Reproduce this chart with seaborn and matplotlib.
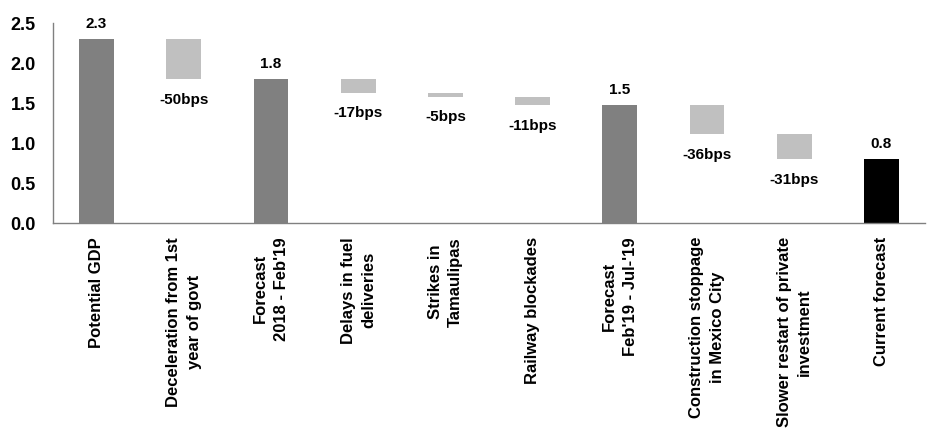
import numpy as np
import pandas as pd
import matplotlib
matplotlib.use("Agg")
import matplotlib.pyplot as plt
import seaborn as sns

# ---- data ----
categories = [
    "Potential GDP",
    "Deceleration from 1st\nyear of govt",
    "Forecast\n2018 - Feb'19",
    "Delays in fuel\ndeliveries",
    "Strikes in\nTamaulipas",
    "Railway blockades",
    "Forecast\nFeb'19 - Jul-'19",
    "Construction stoppage\nin Mexico City",
    "Slower restart of private\ninvestment",
    "Current forecast",
]
bar_top = [2.30, 2.30, 1.80, 1.80, 1.63, 1.58, 1.47, 1.47, 1.11, 0.80]
bar_base = [0.00, 1.80, 0.00, 1.63, 1.58, 1.47, 0.00, 1.11, 0.80, 0.00]
bar_kind = ["total", "step", "total", "step", "step", "step", "total", "step", "step", "final"]
bar_text = ["2.3", "-50bps", "1.8", "-17bps", "-5bps", "-11bps", "1.5", "-36bps", "-31bps", "0.8"]

kind_colors = {"total": "#808080", "step": "#c0c0c0", "final": "#000000"}

df = pd.DataFrame({
    "category": categories,
    "top": bar_top,
    "base": bar_base,
    "kind": bar_kind,
    "text": bar_text,
})
df["height"] = df["top"] - df["base"]

sns.set_style("white")
plt.rcParams["font.family"] = ["Liberation Sans", "DejaVu Sans"]
plt.rcParams["font.weight"] = "bold"
plt.rcParams["text.color"] = "black"
plt.rcParams["xtick.labelcolor"] = "black"
plt.rcParams["ytick.labelcolor"] = "black"

fig = plt.figure(figsize=(9.3, 4.34), dpi=100)
ax = fig.add_axes([53 / 930, 1 - 223 / 434, 872 / 930, 200 / 434])

sns.barplot(data=df, x="category", y="height", bottom=df["base"].values,
            order=categories, color="#808080", width=0.4, ax=ax,
            saturation=1, errorbar=None)

for patch, kind in zip(ax.patches, df["kind"]):
    patch.set_facecolor(kind_colors[kind])
    patch.set_edgecolor("none")

# value labels
for i, row in df.iterrows():
    if row["kind"] == "step":
        ax.annotate(row["text"], (i, row["base"]), xytext=(0, -10),
                    textcoords="offset points", ha="center", va="top",
                    fontsize=11, fontweight="bold", color="black")
    else:
        ax.annotate(row["text"], (i, row["top"]), xytext=(0, 6),
                    textcoords="offset points", ha="center", va="bottom",
                    fontsize=11, fontweight="bold", color="black")

ax.set_ylim(0, 2.5)
ax.set_xlim(-0.5, len(categories) - 0.5)
ax.set_yticks(np.arange(0, 2.51, 0.5))
ax.set_yticklabels([f"{v:.1f}" for v in np.arange(0, 2.51, 0.5)],
                   fontsize=13, fontweight="bold")

ax.set_xticks(range(len(categories)))
ax.set_xticklabels(categories, rotation=90, ha="center", va="top",
                   multialignment="center", fontsize=12, fontweight="bold",
                   linespacing=1.45)
ax.set_xticks(np.arange(-0.5, len(categories), 1.0), minor=True)
ax.tick_params(axis="x", which="major", length=0, pad=10, labelcolor="black")
ax.tick_params(axis="x", which="minor", length=4.5, direction="out", color="#808080", width=1)
ax.tick_params(axis="y", length=4.5, direction="out", color="#808080", width=1, pad=8,
               labelcolor="black")

ax.set_xlabel("")
ax.set_ylabel("")
sns.despine(ax=ax)
for side in ["left", "bottom"]:
    ax.spines[side].set_color("#808080")
    ax.spines[side].set_linewidth(1)

fig.savefig("out.png", dpi=100)
